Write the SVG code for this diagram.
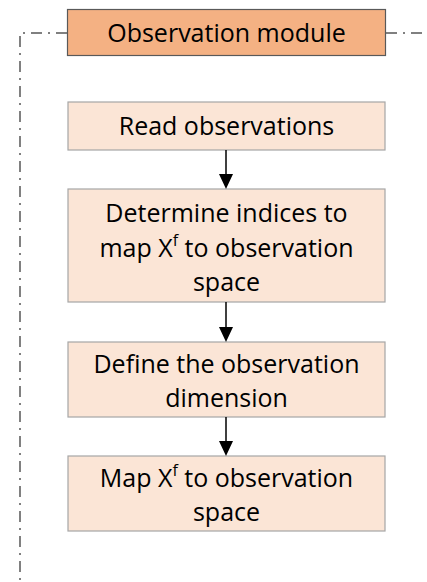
<svg xmlns="http://www.w3.org/2000/svg" width="427" height="582" viewBox="0 0 427 582">
<style>
.box{fill:#FBE5D6;stroke:#A6A6A6;stroke-width:1.2}
.hdr{fill:#F4B183;stroke:#595959;stroke-width:1.2}
text{font-family:"Open Sans","Liberation Sans",sans-serif;font-size:25px;fill:#000;text-anchor:middle}
.dd{fill:none;stroke:#808080;stroke-width:2;stroke-dasharray:11 6 2 6}
.arr{stroke:#000;stroke-width:1.5;fill:none}
</style>
<g id="frame">
<path class="dd" d="M67,33 H20 V582"/>
<path class="dd" d="M386,33 H427"/>
</g>
<g id="header">
<rect class="hdr" x="67.5" y="9.5" width="318" height="46"/>
<text x="226.5" y="42">Observation module</text>
</g>
<g id="n1">
<rect class="box" x="68" y="102" width="317" height="48"/>
<text x="226.5" y="135">Read observations</text>
</g>
<g id="n2">
<rect class="box" x="68" y="189" width="317" height="113"/>
<text x="226.5" y="222">Determine indices to</text>
<text x="226.5" y="257">map X<tspan font-size="16" dy="-11">f</tspan><tspan dy="11"> to observation</tspan></text>
<text x="226.5" y="291">space</text>
</g>
<g id="n3">
<rect class="box" x="68" y="342" width="317" height="75"/>
<text x="226.5" y="373">Define the observation</text>
<text x="226.5" y="407">dimension</text>
</g>
<g id="n4">
<rect class="box" x="68" y="456" width="317" height="75"/>
<text x="226.5" y="487">Map X<tspan font-size="16" dy="-11">f</tspan><tspan dy="11"> to observation</tspan></text>
<text x="226.5" y="521">space</text>
</g>
<g id="connectors">
<line class="arr" x1="226" y1="150" x2="226" y2="176"/>
<path d="M219,174 L233,174 L226,189 Z" fill="#000"/>
<line class="arr" x1="226" y1="302" x2="226" y2="329"/>
<path d="M219,327 L233,327 L226,342 Z" fill="#000"/>
<line class="arr" x1="226" y1="417" x2="226" y2="443"/>
<path d="M219,441 L233,441 L226,456 Z" fill="#000"/>
</g>
</svg>
